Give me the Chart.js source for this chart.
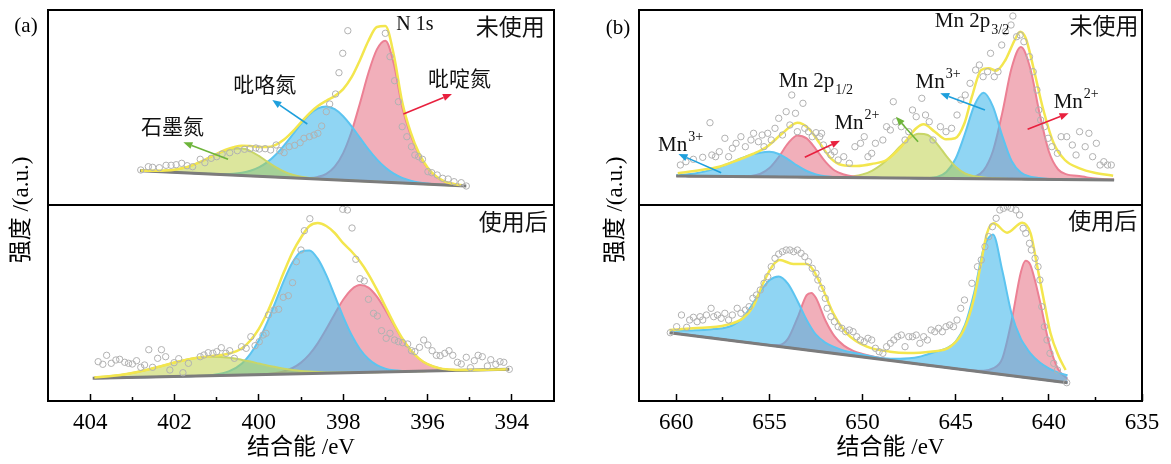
<!DOCTYPE html>
<html>
<head>
<meta charset="utf-8">
<script src="https://cdn.jsdelivr.net/npm/chart.js@4.4.1/dist/chart.umd.min.js"></script>
<style>
  body { margin: 0; background: #fff; width: 1171px; height: 464px; position: relative; overflow: hidden;
         font-family: "Liberation Serif", "Noto Sans CJK SC", serif; color: #000; }
  canvas { position: absolute; }
  .tag { position: absolute; transform: translate(-50%, -50%); font-size: 21px; line-height: 1; white-space: nowrap; }
  .ytitle { position: absolute; transform: translate(-50%, -50%) rotate(-90deg); font-size: 23px; line-height: 1; white-space: nowrap; }
</style>
</head>
<body>
<canvas id="aTop"></canvas>
<canvas id="aBot"></canvas>
<canvas id="bTop"></canvas>
<canvas id="bBot"></canvas>
<div class="tag" style="left:26px;top:25px">(a)</div>
<div class="tag" style="left:618px;top:27px">(b)</div>
<div class="ytitle" style="left:20px;top:210px">强度 /(a.u.)</div>
<div class="ytitle" style="left:614px;top:210px">强度 /(a.u.)</div>
<script>
'use strict';

// ---- N 1s (panel a) ----
var aTicks = [394, 396, 398, 400, 402, 404];
var aMinorTicks = [395, 397, 399, 401, 403];

// fresh sample, fit grid
var aTopE = [402.8, 402.6, 402.4, 402.2, 402.0, 401.8, 401.6, 401.4, 401.2, 401.0, 400.8, 400.6, 400.4, 400.2, 400.0, 399.8, 399.6, 399.4, 399.2, 399.0,
             398.8, 398.6, 398.4, 398.2, 398.0, 397.8, 397.6, 397.4, 397.2, 397.0, 396.8, 396.6, 396.4, 396.2, 396.0, 395.8, 395.6, 395.4, 395.2];
var aTopGraphitic = [34.4, 34.2, 34.2, 34.5, 35.3, 36.9, 39.4, 42.8, 46.8, 50.9, 54.3, 56.3, 56.4, 53.9, 49.1, 43.3, 37.8, 33.4, 30.2, 28.2,
                     27.0, 26.2, 25.7, 25.2, 24.8, 24.4, 24.0, 23.6, 23.2, 22.8, 22.4, 22.0, 21.6, 21.2, 20.8, 20.4, 20.0, 19.7, 19.3];
var aTopPyrrolic = [34.3, 33.9, 33.5, 33.1, 32.7, 32.3, 31.9, 31.5, 31.2, 31.0, 31.0, 31.3, 32.3, 34.2, 37.6, 42.9, 50.3, 59.7, 70.3, 81.1,
                    90.4, 96.6, 98.6, 95.8, 88.8, 78.7, 67.1, 55.7, 45.6, 37.4, 31.3, 27.1, 24.4, 22.6, 21.5, 20.7, 20.2, 19.7, 19.3];
var aTopPyridinic = [34.3, 33.9, 33.5, 33.1, 32.7, 32.3, 31.9, 31.5, 31.1, 30.7, 30.3, 29.9, 29.5, 29.1, 28.7, 28.3, 27.9, 27.6, 27.2, 27.0,
                     27.1, 28.1, 31.1, 38.3, 51.9, 73.5, 102.0, 132.2, 155.6, 164.3, 141.4, 98.0, 70.1, 50.2, 36.8, 28.4, 23.5, 21.2, 19.9];
var aTopFit = [34.4, 34.2, 34.2, 34.5, 35.3, 37.0, 39.4, 42.8, 46.9, 51.2, 55.0, 57.7, 59.2, 59.0, 58.0, 57.9, 60.2, 65.5, 73.4, 82.7,
               91.7, 98.9, 104.2, 108.9, 115.9, 127.8, 145.1, 164.3, 178.0, 178.9, 150.3, 103.1, 72.9, 51.6, 37.5, 28.7, 23.7, 21.2, 19.9];
var aTopBase = [[402.82, 34.3], [395.08, 19.0]];
var aTopPts = [[402.80, 35.0], [402.62, 38.3], [402.52, 37.7], [402.36, 37.3], [402.20, 39.7], [402.08, 39.7], [401.96, 40.3], [401.83, 41.7],
               [401.70, 39.3], [401.57, 38.3], [401.39, 45.7], [401.28, 42.3], [401.13, 46.7], [401.00, 48.3], [400.87, 51.0], [400.69, 52.3],
               [400.51, 54.3], [400.34, 55.7], [400.21, 56.3], [400.07, 57.0], [399.99, 56.0], [399.85, 56.3], [399.72, 55.0], [399.59, 60.0],
               [399.50, 54.3], [399.40, 52.3], [399.28, 58.3], [399.15, 59.7], [399.02, 62.3], [398.93, 66.7], [398.80, 68.3], [398.69, 70.0],
               [398.60, 71.7], [398.51, 79.0], [398.40, 93.3], [398.32, 101.0], [398.18, 111.0], [398.10, 132.3], [398.01, 151.7], [397.89, 174.3],
               [397.00, 171.7], [396.89, 148.3], [396.78, 124.3], [396.69, 103.3], [396.60, 78.3], [396.49, 68.3], [396.38, 58.3], [396.30, 50.0],
               [396.21, 48.3], [396.12, 45.7], [395.99, 33.3], [395.90, 32.3], [395.77, 30.0], [395.64, 26.7], [395.51, 26.0], [395.37, 23.3],
               [395.20, 22.3], [395.08, 19.0]];

// used sample
var aBotE = [403.9, 403.5, 403.1, 402.7, 402.3, 401.9, 401.5, 401.1, 400.7, 400.4, 400.2, 400.0, 399.8, 399.6, 399.4, 399.2, 399.0, 398.8, 398.6,
             398.4, 398.2, 398.0, 397.8, 397.6, 397.4, 397.2, 397.0, 396.8, 396.6, 396.4, 396.2, 396.0, 395.7, 395.4, 395.0, 394.6, 394.1];
var aBotGraphitic = [23.5, 25.0, 27.3, 30.7, 35.0, 39.5, 42.9, 44.3, 43.3, 41.1, 39.4, 37.5, 35.6, 33.9, 32.3, 31.1, 30.1, 29.4, 28.9,
                     28.6, 28.5, 28.4, 28.5, 28.6, 28.7, 28.8, 29.0, 29.2, 29.4, 29.6, 29.8, 29.9, 30.2, 30.5, 30.8, 31.2, 31.7];
var aBotPyrrolic = [22.7, 23.1, 23.5, 23.8, 24.2, 24.6, 25.0, 26.1, 29.9, 37.6, 47.1, 60.8, 78.8, 99.7, 120.9, 138.7, 149.4, 150.6, 142.1,
                    125.8, 105.3, 84.4, 66.0, 51.8, 42.0, 35.8, 32.4, 30.7, 30.0, 29.8, 29.9, 29.9, 30.2, 30.5, 30.8, 31.2, 31.7];
var aBotPyridinic = [22.7, 23.1, 23.5, 23.8, 24.2, 24.6, 24.9, 25.3, 25.7, 25.9, 26.2, 26.5, 27.0, 28.0, 29.8, 33.0, 38.4, 46.6, 57.9,
                     71.9, 87.0, 101.2, 111.6, 116.0, 113.4, 104.3, 91.1, 76.2, 62.2, 50.7, 42.3, 36.8, 32.6, 31.2, 30.9, 31.2, 31.7];
var aBotFit = [23.5, 25.0, 27.3, 30.7, 35.0, 39.5, 43.0, 45.1, 47.5, 52.8, 60.5, 72.2, 88.5, 108.3, 129.4, 148.8, 163.5, 175.0, 178.0,
               175.0, 168.0, 157.8, 149.5, 139.4, 126.7, 111.3, 94.5, 77.7, 62.8, 50.9, 42.4, 36.8, 32.6, 31.2, 30.9, 31.2, 31.7];
var aBotBase = [[403.94, 22.7], [394.06, 31.7]];
var aBotPts = [[403.81, 39.3], [403.70, 36.7], [403.61, 45.7], [403.50, 37.7], [403.39, 41.0], [403.30, 41.7], [403.18, 38.7], [403.09, 37.7],
               [403.00, 37.0], [402.90, 40.3], [402.80, 33.7], [402.71, 36.0], [402.61, 51.3], [402.52, 33.7], [402.40, 42.7], [402.31, 51.3],
               [402.21, 44.3], [402.11, 31.0], [402.01, 38.3], [401.90, 42.3], [401.80, 28.3], [401.67, 37.7], [401.39, 44.3], [401.30, 46.0],
               [401.20, 48.3], [401.09, 47.7], [401.00, 49.3], [400.89, 53.3], [400.78, 47.7], [400.69, 50.3], [400.58, 42.7], [400.41, 54.3],
               [400.30, 52.7], [400.19, 64.3], [400.09, 55.3], [399.99, 59.3], [399.90, 66.0], [399.83, 67.7], [399.77, 86.0], [399.64, 91.0],
               [399.53, 91.7], [399.42, 103.7], [399.30, 105.3], [399.20, 118.3], [399.11, 139.3], [399.00, 151.0], [398.92, 170.3], [398.79, 182.3],
               [398.01, 191.7], [397.90, 191.0], [397.79, 173.0], [397.70, 141.7], [397.60, 122.3], [397.50, 120.0], [397.40, 101.7], [397.28, 87.7],
               [397.19, 85.0], [397.09, 70.3], [396.98, 62.7], [396.89, 67.7], [396.78, 61.0], [396.69, 59.3], [396.59, 58.3], [396.47, 57.0],
               [396.38, 50.3], [396.30, 49.3], [396.19, 53.7], [396.09, 61.0], [395.99, 56.0], [395.89, 50.3], [395.79, 45.7], [395.70, 45.3],
               [395.59, 47.7], [395.49, 50.3], [395.40, 45.7], [395.29, 38.7], [395.20, 37.0], [395.08, 43.7], [394.98, 33.3], [394.89, 40.3],
               [394.80, 45.7], [394.70, 44.3], [394.58, 35.0], [394.50, 41.3], [394.38, 36.7], [394.28, 39.3], [394.19, 38.7], [394.06, 31.7]];

// ---- Mn 2p (panel b) ----
var bTicks = [635, 640, 645, 650, 655, 660];
var bMinorTicks = [637.5, 642.5, 647.5, 652.5, 657.5];

var bTopE = [660, 659.5, 659, 658.5, 658, 657.5, 657, 656.5, 656, 655.5, 655, 654.5, 654, 653.5, 653, 652.5, 652, 651.5, 651, 650.5,
             650, 649.5, 649, 648.5, 648, 647.5, 647, 646.5, 646, 645.5, 645, 644.5, 644, 643.5, 643, 642.5, 642, 641.5, 641, 640.5,
             640, 639.5, 639, 638.5, 638, 637.5, 637, 636.5];
var bTopMn3a = [29.8, 30.4, 31.5, 33.4, 35.9, 39.1, 42.9, 46.7, 50.1, 52.3, 53.2, 51.0, 45.7, 39.3, 34.0, 30.6, 28.7, 28.0, 27.6, 27.4,
                27.3, 27.2, 27.1, 27.0, 27.0, 26.9, 26.8, 26.7, 26.6, 26.5, 26.4, 26.4, 26.3, 26.2, 26.1, 26.0, 25.9, 25.9, 25.8, 25.7,
                25.6, 25.5, 25.4, 25.3, 25.3, 25.2, 25.1, 25.0];
var bTopMn2a = [29.0, 28.9, 28.8, 28.8, 28.7, 28.6, 28.5, 28.5, 28.9, 31.0, 36.9, 48.0, 61.6, 69.6, 66.6, 55.7, 43.4, 34.5, 30.5, 28.6,
                27.8, 27.4, 27.1, 27.0, 27.0, 26.9, 26.8, 26.7, 26.6, 26.5, 26.4, 26.4, 26.3, 26.2, 26.1, 26.0, 25.9, 25.9, 25.8, 25.7,
                25.6, 25.5, 25.4, 25.3, 25.3, 25.2, 25.1, 25.0];
var bTopSat = [29.0, 28.9, 28.8, 28.8, 28.7, 28.6, 28.5, 28.4, 28.3, 28.2, 28.2, 28.1, 28.0, 27.9, 27.8, 27.7, 27.6, 27.8, 28.0, 28.8,
               30.6, 34.2, 40.2, 48.5, 58.2, 66.6, 71.3, 70.0, 61.2, 48.9, 38.2, 31.5, 28.8, 27.5, 26.7, 26.3, 25.9, 25.9, 25.8, 25.7,
               25.6, 25.5, 25.4, 25.3, 25.3, 25.2, 25.1, 25.0];
var bTopMn3b = [29.0, 28.9, 28.8, 28.8, 28.7, 28.6, 28.5, 28.4, 28.3, 28.2, 28.2, 28.1, 28.0, 27.9, 27.8, 27.7, 27.6, 27.6, 27.5, 27.4,
                27.3, 27.2, 27.1, 27.0, 27.0, 26.9, 26.8, 27.0, 28.1, 33.0, 46.5, 71.5, 99.5, 112.2, 98.4, 69.1, 44.0, 32.4, 28.3, 26.9,
                26.1, 25.7, 25.4, 25.3, 25.3, 25.2, 25.1, 25.0];
var bTopMn2b = [29.0, 28.9, 28.8, 28.8, 28.7, 28.6, 28.5, 28.4, 28.3, 28.2, 28.2, 28.1, 28.0, 27.9, 27.8, 27.7, 27.6, 27.6, 27.5, 27.4,
                27.3, 27.2, 27.1, 27.0, 27.0, 26.9, 26.8, 26.7, 26.6, 26.5, 26.4, 26.7, 28.1, 34.6, 54.0, 92.1, 136.9, 157.9, 136.8, 91.8,
                53.5, 35.5, 30.4, 29.3, 27.8, 26.4, 25.8, 25.4];
var bTopFit = [[659.92, 31.7], [658.68, 35.0], [657.69, 38.3], [656.69, 45.0], [655.89, 51.0], [655.13, 58.3], [654.30, 71.7], [653.50, 82.3],
               [652.90, 76.7], [652.30, 61.7], [651.70, 46.7], [651.11, 40.0], [650.31, 39.0], [649.51, 41.0], [648.71, 45.0], [647.92, 58.3],
               [647.12, 76.7], [646.72, 80.7], [646.12, 73.3], [645.52, 65.7], [645.03, 66.7], [644.53, 81.7], [644.13, 108.3], [643.63, 135.0],
               [643.23, 136.7], [642.83, 134.3], [642.33, 145.0], [641.83, 165.0], [641.54, 173.3], [641.24, 166.7], [640.84, 138.3], [640.34, 98.3],
               [639.74, 61.7], [639.14, 45.0], [638.35, 36.7], [637.55, 32.3], [636.55, 29.3]];
var bTopBase = [[660.0, 29.0], [636.5, 25.0]];
var bTopPts = [[659.78, 40.0], [659.48, 43.3], [659.08, 45.7], [658.58, 47.7], [658.19, 82.3], [658.09, 50.0], [657.89, 48.3], [657.69, 53.3],
               [657.39, 66.7], [657.19, 48.3], [656.99, 56.7], [656.79, 61.7], [656.53, 68.3], [656.29, 58.3], [655.99, 65.0], [655.85, 71.7],
               [655.59, 63.3], [655.39, 70.0], [655.29, 58.3], [655.09, 71.7], [654.90, 65.0], [654.70, 76.7], [654.50, 86.7], [654.30, 70.0],
               [654.10, 93.3], [653.90, 80.0], [653.80, 110.0], [653.60, 91.7], [653.50, 73.3], [653.20, 101.7], [653.10, 76.7], [652.90, 73.3],
               [652.70, 68.3], [652.50, 72.3], [652.30, 68.3], [652.20, 71.7], [652.10, 60.0], [651.90, 55.0], [651.70, 50.0], [651.51, 53.3],
               [651.31, 45.0], [651.01, 48.3], [650.71, 41.7], [650.41, 58.3], [650.11, 61.7], [649.91, 68.3], [649.71, 48.3], [649.51, 51.7],
               [649.31, 61.7], [648.91, 65.0], [648.71, 78.3], [648.51, 75.0], [648.35, 103.3], [648.22, 83.3], [647.92, 78.3], [647.72, 65.0],
               [647.52, 73.3], [647.32, 95.0], [647.12, 88.3], [646.82, 106.7], [646.62, 90.0], [646.42, 83.3], [646.22, 65.0], [645.82, 78.3],
               [645.52, 73.3], [645.22, 76.7], [644.93, 90.0], [644.73, 105.0], [644.49, 110.0], [644.23, 121.7], [643.93, 135.0], [643.73, 140.0],
               [643.53, 128.3], [643.29, 133.3], [643.13, 151.7], [642.93, 128.3], [642.73, 133.3], [642.53, 160.0], [642.33, 173.3], [642.03, 180.0],
               [641.93, 189.0], [641.73, 168.3], [641.54, 170.0], [641.34, 163.3], [641.04, 148.3], [640.84, 133.3], [640.64, 115.0], [640.54, 95.0],
               [640.44, 85.0], [640.24, 78.3], [640.04, 66.7], [639.84, 58.3], [639.54, 51.7], [639.34, 68.3], [639.04, 68.3], [638.74, 60.0],
               [638.54, 50.0], [638.35, 73.3], [638.05, 58.3], [637.85, 71.7], [637.65, 48.3], [637.45, 61.7], [637.25, 40.0], [637.05, 43.3],
               [636.85, 40.0], [636.65, 40.0]];

var bBotE = [660.3, 660, 659.5, 659, 658.5, 658, 657.5, 657, 656.5, 656, 655.5, 655, 654.5, 654, 653.5, 653, 652.75, 652.5, 652, 651.5,
             651, 650.5, 650, 649.5, 649, 648.5, 648, 647.5, 647, 646.5, 646, 645.5, 645, 644.5, 644, 643.5, 643, 642.5, 642, 641.5,
             641.25, 641, 640.5, 640, 639.5, 639];
var bBotMn3a = [70.3, 70.6, 70.4, 70.7, 71.0, 71.9, 72.7, 75.5, 81.7, 94.2, 109.1, 120.8, 124.6, 117.2, 100.3, 81.0, 73.0, 66.3, 58.4, 53.9,
                50.4, 48.2, 46.3, 44.4, 42.7, 41.1, 39.7, 38.2, 37.0, 35.8, 34.7, 33.5, 32.3, 31.1, 30.0, 28.8, 27.6, 26.4, 25.3, 24.1,
                23.5, 22.9, 21.7, 20.6, 19.4, 18.2];
var bBotMn2a = [68.3, 67.6, 66.4, 65.2, 64.0, 62.9, 61.7, 60.5, 59.3, 58.2, 57.0, 56.0, 55.9, 62.4, 82.8, 105.8, 108.0, 102.9, 80.8, 64.6,
                55.4, 50.2, 47.1, 44.7, 42.7, 41.0, 39.4, 38.2, 37.0, 35.8, 34.7, 33.5, 32.3, 31.1, 30.0, 28.8, 27.6, 26.4, 25.3, 24.1,
                23.5, 22.9, 21.7, 20.6, 19.4, 18.2];
var bBotMn3b = [68.3, 67.6, 66.4, 65.2, 64.0, 62.9, 61.7, 60.5, 59.3, 58.2, 57.0, 55.8, 54.6, 53.5, 52.3, 51.1, 50.5, 49.9, 48.8, 47.7,
                46.6, 45.5, 44.6, 43.7, 42.9, 42.3, 42.2, 42.7, 44.0, 46.8, 49.7, 52.5, 59.3, 76.1, 109.0, 152.4, 166.6, 130.4, 87.3, 62.1,
                54.5, 47.9, 38.7, 32.6, 28.4, 25.7];
var bBotMn2b = [68.3, 67.6, 66.4, 65.2, 64.0, 62.9, 61.7, 60.5, 59.3, 58.2, 57.0, 55.8, 54.6, 53.5, 52.3, 51.1, 50.5, 49.9, 48.8, 47.6,
                46.4, 45.2, 44.1, 42.9, 41.7, 40.5, 39.4, 38.2, 37.0, 35.8, 34.7, 33.5, 32.3, 31.4, 30.5, 30.3, 32.6, 42.4, 80.3, 129.1,
                140.3, 136.3, 101.5, 58.6, 31.7, 22.2];
var bBotFit = [[660.36, 71.0], [659.11, 72.7], [657.31, 76.0], [656.42, 82.7], [655.88, 94.3], [655.34, 117.7], [654.80, 136.0], [654.44, 141.0],
               [653.72, 137.0], [653.00, 137.0], [652.65, 131.0], [652.11, 111.0], [651.57, 87.7], [650.85, 67.7], [649.77, 54.3], [648.52, 49.3],
               [647.60, 48.0], [646.37, 49.3], [645.29, 54.3], [644.57, 71.0], [644.04, 101.0], [643.68, 134.3], [643.32, 167.7], [642.96, 177.7],
               [642.24, 168.3], [641.43, 178.3], [640.98, 167.7], [640.62, 134.3], [640.27, 101.0], [639.91, 67.7], [639.46, 44.3], [639.10, 31.0]];
var bBotBase = [[660.36, 68.3], [639.0, 18.2]];
var bBotPts = [[660.32, 68.3], [659.98, 74.3], [659.72, 86.0], [659.44, 73.7], [659.28, 81.0], [659.08, 83.7], [658.88, 79.3], [658.72, 84.3],
               [658.58, 81.0], [658.38, 86.0], [658.13, 92.7], [657.99, 84.3], [657.79, 86.0], [657.59, 82.7], [657.39, 87.7], [657.19, 81.0],
               [656.99, 86.0], [656.73, 92.7], [656.53, 87.7], [656.29, 91.0], [656.09, 94.3], [655.89, 102.7], [655.69, 106.0], [655.49, 111.0],
               [655.29, 117.7], [655.09, 124.3], [654.90, 134.3], [654.70, 142.7], [654.50, 147.0], [654.30, 149.3], [654.10, 151.0], [653.90, 151.0],
               [653.70, 149.3], [653.50, 151.0], [653.30, 147.7], [653.10, 144.3], [652.90, 139.3], [652.70, 132.7], [652.50, 127.7], [652.40, 121.0],
               [652.19, 112.7], [652.00, 102.7], [651.90, 92.7], [651.70, 84.3], [651.51, 79.3], [651.31, 74.3], [651.11, 72.7], [650.91, 69.3],
               [650.71, 71.0], [650.51, 69.3], [650.31, 64.3], [650.11, 61.0], [649.91, 59.3], [649.71, 62.7], [649.51, 61.0], [649.31, 52.7],
               [649.11, 49.3], [648.91, 47.7], [648.71, 54.3], [648.51, 57.7], [648.32, 61.0], [648.12, 64.3], [647.92, 66.0], [647.72, 54.3],
               [647.52, 64.3], [647.32, 64.3], [647.12, 66.0], [646.92, 57.7], [646.72, 64.3], [646.52, 61.0], [646.32, 71.0], [646.12, 69.3],
               [645.92, 72.7], [645.72, 69.3], [645.52, 74.3], [645.32, 76.0], [645.12, 74.3], [644.93, 81.0], [644.73, 92.7], [644.53, 101.0],
               [644.13, 117.7], [643.83, 134.3], [643.63, 141.0], [643.43, 154.3], [643.23, 164.3], [643.03, 174.3], [642.83, 182.7], [642.63, 191.0],
               [642.43, 192.7], [642.23, 194.3], [642.03, 192.7], [641.77, 191.0], [641.57, 186.0], [641.38, 172.7], [641.24, 167.7], [641.04, 157.7],
               [640.94, 151.0], [640.74, 142.7], [640.58, 134.3], [640.48, 121.0], [640.38, 94.3], [640.24, 74.3], [640.10, 61.0], [639.94, 47.7],
               [639.74, 37.7], [639.54, 31.0], [639.04, 18.3]];

// ---- drawing ----
var FONT = '"Liberation Serif", "Noto Sans CJK SC", serif';
var GREEN = ['rgb(200, 214, 104)', 'rgba(185, 205, 60, 0.5)'];
var BLUE = ['rgb(92, 196, 240)', 'rgba(70, 185, 235, 0.6)'];
var RED = ['rgb(236, 128, 148)', 'rgba(230, 110, 130, 0.55)'];
var ARROW_BLUE = '#1e9fdc', ARROW_RED = '#e8203e', ARROW_GREEN = '#6db43a';

function points(list) {
    return list.map(function (p) { return {x: p[0], y: p[1]}; });
}

function pairs(xs, ys) {
    return xs.map(function (x, i) { return {x: x, y: ys[i]}; });
}

function drawArrow(ctx, x1, y1, x2, y2, color) {
    var a = Math.atan2(y2 - y1, x2 - x1), L = 9, W = 3.6;
    var bx = x2 - L * Math.cos(a), by = y2 - L * Math.sin(a);
    ctx.strokeStyle = color;
    ctx.fillStyle = color;
    ctx.lineWidth = 1.6;
    ctx.beginPath();
    ctx.moveTo(x1, y1);
    ctx.lineTo(bx, by);
    ctx.stroke();
    ctx.beginPath();
    ctx.moveTo(x2, y2);
    ctx.lineTo(bx + W * Math.sin(a), by - W * Math.cos(a));
    ctx.lineTo(bx - W * Math.sin(a), by + W * Math.cos(a));
    ctx.closePath();
    ctx.fill();
}

var framePlugin = {
    id: 'frame',
    afterDraw: function (chart) {
        var a = chart.chartArea, ctx = chart.ctx;
        ctx.save();
        ctx.strokeStyle = '#000';
        ctx.lineWidth = 2;
        ctx.strokeRect(a.left, a.top, a.right - a.left, a.bottom - a.top);
        ctx.restore();
    }
};

var notesPlugin = {
    id: 'notes',
    afterDatasetsDraw: function (chart, args, opts) {
        var ctx = chart.ctx, sx = chart.scales.x, sy = chart.scales.y;
        ctx.save();
        (opts.items || []).forEach(function (n) {
            if (n.arrow) {
                drawArrow(ctx, sx.getPixelForValue(n.from[0]), sy.getPixelForValue(n.from[1]),
                          sx.getPixelForValue(n.to[0]), sy.getPixelForValue(n.to[1]), n.arrow);
                return;
            }
            var x = sx.getPixelForValue(n.at[0]), y = sy.getPixelForValue(n.at[1]);
            ctx.fillStyle = '#111';
            ctx.textBaseline = 'middle';
            ctx.textAlign = n.align || 'left';
            ctx.font = n.size + 'px ' + FONT;
            ctx.fillText(n.text, x, y);
            if (n.sup || n.sub) {
                var w = ctx.measureText(n.text).width;
                ctx.font = Math.round(n.size * 0.68) + 'px ' + FONT;
                ctx.textAlign = 'left';
                ctx.fillText(n.sup || n.sub, x + w + 1, y + (n.sup ? -n.size * 0.38 : n.size * 0.45));
            }
        });
        ctx.restore();
    }
};

function setTicks(values) {
    return function (scale) {
        scale.ticks = values.map(function (v) { return {value: v}; });
    };
}

function xScales(p, bottom) {
    if (!bottom) {
        return {x: {type: 'linear', reverse: true, min: p.min, max: p.max, display: false}};
    }
    return {
        x: {
            type: 'linear', reverse: true, min: p.min, max: p.max, weight: 1,
            afterBuildTicks: setTicks(p.ticks),
            afterFit: function (s) { s.height = 63; },
            grid: {display: true, drawOnChartArea: false, drawTicks: true, tickLength: -7, tickWidth: 1.5, tickColor: '#000'},
            border: {display: false},
            ticks: {color: '#000', font: {family: FONT, size: 23}, padding: 15, maxRotation: 0, autoSkip: false},
            title: {display: true, text: '结合能 /eV', color: '#000', font: {family: FONT, size: 23}, padding: {top: 0, bottom: 2}}
        },
        xm: {
            type: 'linear', position: 'bottom', reverse: true, min: p.min, max: p.max, weight: 0,
            afterBuildTicks: setTicks(p.minor),
            afterFit: function (s) { s.height = 0; },
            grid: {display: true, drawOnChartArea: false, drawTicks: true, tickLength: -4, tickWidth: 1.5, tickColor: '#000'},
            border: {display: false},
            ticks: {display: false}
        }
    };
}

function drawSpectrum(id, p) {
    var canvas = document.getElementById(id);
    canvas.width = p.box[2];
    canvas.height = p.box[3];
    canvas.style.left = p.box[0] + 'px';
    canvas.style.top = p.box[1] + 'px';

    var datasets = [
        {data: points(p.pts), showLine: false, pointRadius: 3.2, pointBorderWidth: 1,
         pointBorderColor: '#b1b1b1', pointBackgroundColor: 'rgba(255,255,255,0)', order: 0},
        {data: p.fit, borderColor: '#f3e64e', borderWidth: 2.5, pointRadius: 0,
         cubicInterpolationMode: 'monotone', fill: false, order: 1},
        {data: points(p.base), borderColor: '#7c7c7c', borderWidth: 3, pointRadius: 0, fill: false, order: 2}
    ];
    p.peaks.forEach(function (pk, i) {
        datasets.push({
            data: pairs(p.energy, pk.values), borderColor: pk.color[0], backgroundColor: pk.color[1],
            borderWidth: 2, pointRadius: 0, cubicInterpolationMode: 'monotone', fill: 2, order: 3 + i
        });
    });

    var scales = xScales(p, p.bottom);
    scales.y = {type: 'linear', min: 0, max: p.bottom ? 196 : 195, display: false};

    new Chart(canvas, {
        type: 'line',
        data: {datasets: datasets},
        options: {
            responsive: false,
            animation: false,
            events: [],
            layout: {padding: p.pad},
            scales: scales,
            plugins: {
                legend: {display: false},
                tooltip: {enabled: false},
                notes: {items: p.notes}
            }
        },
        plugins: [framePlugin, notesPlugin]
    });
}

var A = {min: 393, max: 405, ticks: aTicks, minor: aMinorTicks};
var B = {min: 635, max: 662, ticks: bTicks, minor: bMinorTicks};

drawSpectrum('aTop', Object.assign({}, A, {
    box: [38, 0, 526, 215], pad: {left: 10, right: 10, top: 10, bottom: 10}, bottom: false,
    energy: aTopE, fit: pairs(aTopE, aTopFit), base: aTopBase, pts: aTopPts,
    peaks: [{values: aTopGraphitic, color: GREEN}, {values: aTopPyrrolic, color: BLUE}, {values: aTopPyridinic, color: RED}],
    notes: [
        {text: '未使用', at: [393.22, 176], size: 23, align: 'right'},
        {text: 'N 1s', at: [396.30, 180], size: 20, align: 'center'},
        {text: '吡咯氮', at: [399.86, 119], size: 21, align: 'center'},
        {text: '吡啶氮', at: [395.24, 125], size: 21, align: 'center'},
        {text: '石墨氮', at: [402.05, 77], size: 21, align: 'center'},
        {arrow: ARROW_BLUE, from: [398.85, 81], to: [399.68, 105]},
        {arrow: ARROW_RED, from: [396.57, 91], to: [395.42, 111]},
        {arrow: ARROW_GREEN, from: [400.73, 45.7], to: [401.79, 62.7]}
    ]
}));

drawSpectrum('aBot', Object.assign({}, A, {
    box: [38, 195, 526, 269], pad: {left: 10, right: 10, top: 10, bottom: 0}, bottom: true,
    energy: aBotE, fit: pairs(aBotE, aBotFit), base: aBotBase, pts: aBotPts,
    peaks: [{values: aBotGraphitic, color: GREEN}, {values: aBotPyrrolic, color: BLUE}, {values: aBotPyridinic, color: RED}],
    notes: [{text: '使用后', at: [393.15, 177], size: 23, align: 'right'}]
}));

drawSpectrum('bTop', Object.assign({}, B, {
    box: [619, 0, 545, 215], pad: {left: 20, right: 22, top: 10, bottom: 10}, bottom: false,
    energy: bTopE, fit: points(bTopFit), base: bTopBase, pts: bTopPts,
    peaks: [{values: bTopMn3a, color: BLUE}, {values: bTopMn2a, color: RED}, {values: bTopSat, color: GREEN},
            {values: bTopMn3b, color: BLUE}, {values: bTopMn2b, color: RED}],
    notes: [
        {text: '未使用', at: [635.19, 176.7], size: 23, align: 'right'},
        {text: 'Mn 2p', sub: '3/2', at: [646.12, 184], size: 21},
        {text: 'Mn 2p', sub: '1/2', at: [654.50, 124], size: 21},
        {text: 'Mn', sup: '3+', at: [647.16, 123], size: 21},
        {text: 'Mn', sup: '2+', at: [639.74, 103], size: 21},
        {text: 'Mn', sup: '2+', at: [651.51, 81.5], size: 21},
        {text: 'Mn', sup: '3+', at: [660.98, 60], size: 21},
        {arrow: ARROW_BLUE, from: [657.59, 32.3], to: [659.88, 51]},
        {arrow: ARROW_RED, from: [653.10, 47.7], to: [651.21, 64.3]},
        {arrow: ARROW_GREEN, from: [647.02, 63.3], to: [648.21, 88.3]},
        {arrow: ARROW_BLUE, from: [643.43, 95], to: [645.83, 111.7]},
        {arrow: ARROW_RED, from: [641.14, 75.7], to: [638.94, 91.7]}
    ]
}));

drawSpectrum('bBot', Object.assign({}, B, {
    box: [619, 195, 545, 269], pad: {left: 20, right: 22, top: 10, bottom: 0}, bottom: true,
    energy: bBotE, fit: points(bBotFit), base: bBotBase, pts: bBotPts,
    peaks: [{values: bBotMn3a, color: BLUE}, {values: bBotMn2a, color: RED},
            {values: bBotMn3b, color: BLUE}, {values: bBotMn2b, color: RED}],
    notes: [{text: '使用后', at: [635.25, 178.3], size: 23, align: 'right'}]
}));
</script>
</body>
</html>
